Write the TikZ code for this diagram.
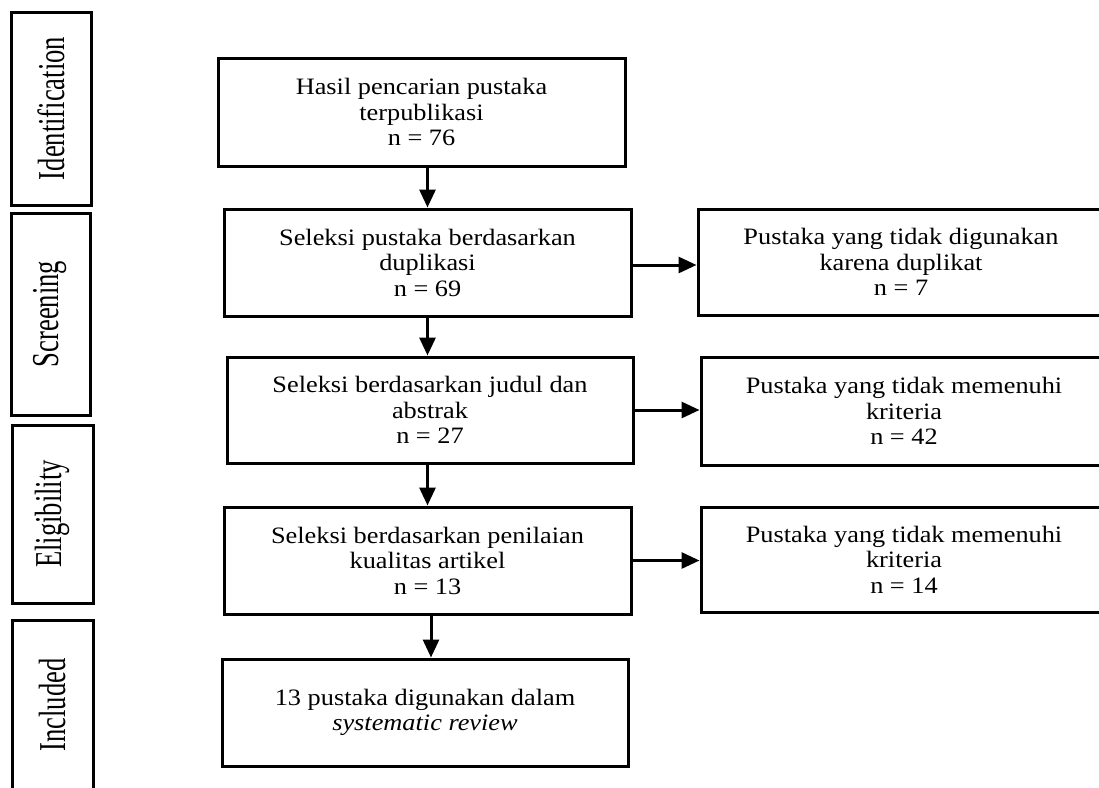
\documentclass[tikz,border=0pt]{standalone}
\usepackage{fontspec}
\setmainfont{Liberation Serif}[FakeStretch=1.12]
\newfontfamily\labelfont{Liberation Serif}[FakeStretch=0.7]
\usetikzlibrary{arrows.meta}
\begin{document}
\begin{tikzpicture}[x=1pt,y=-1pt,
  box/.style={draw=black, line width=3pt, rectangle, align=center,
    minimum width=406pt, minimum height=107pt, inner sep=0pt,
    font=\fontsize{23.5}{25.5}\selectfont},
  phase/.style={draw=black, line width=3pt, rectangle, inner sep=0pt},
  phasetext/.style={rotate=90, font=\labelfont\fontsize{38}{38}\selectfont},
  arr/.style={line width=3pt, -{Triangle[length=18pt,width=16pt]}}]
\useasboundingbox (0,0) rectangle (1099,787);
\clip (0,0) rectangle (1099,787);

% phase labels
\node[phase, minimum width=80pt, minimum height=193pt] (pid) at (51,108.5) {};
\node[phasetext] (tid) at (pid.center) {Identification};
\node[phase, minimum width=79pt, minimum height=202pt] (psc) at (50.5,314) {};
\node[phasetext] (tsc) at (psc.center) {Screening};
\node[phase, minimum width=81pt, minimum height=178pt] (pel) at (52.5,514) {};
\node[phasetext] (tel) at (pel.center) {Eligibility};
\node[phase, minimum width=81pt, minimum height=170pt] (pin) at (52.5,705) {};
\node[phasetext] (tin) at (pin.center) {Included};

% main boxes
\node[box, minimum width=407pt, minimum height=108pt] (b1) at (421.5,112) {Hasil pencarian pustaka\\terpublikasi\\n = 76};
\node[box, minimum width=407pt] (b2) at (427.5,262.5) {Seleksi pustaka berdasarkan\\duplikasi\\n = 69};
\node[box, minimum height=106pt] (b3) at (430,410) {Seleksi berdasarkan judul dan\\abstrak\\n = 27};
\node[box, minimum width=407pt] (b4) at (427.5,560.5) {Seleksi berdasarkan penilaian\\kualitas artikel\\n = 13};
\node[box] (b5) at (425,712.5) {13 pustaka digunakan dalam\\\textit{systematic review}};

% right boxes
\node[box, minimum height=106pt] (r1) at (901,262) {Pustaka yang tidak digunakan\\karena duplikat\\n = 7};
\node[box, minimum height=108pt] (r2) at (904,411) {Pustaka yang tidak memenuhi\\kriteria\\n = 42};
\node[box, minimum height=105pt] (r3) at (904,559.5) {Pustaka yang tidak memenuhi\\kriteria\\n = 14};

% vertical arrows
\draw[arr] (b2.north |- b1.south) -- (b2.north);
\draw[arr] (b2.south) -- (b2.south |- b3.north);
\draw[arr] (b4.north |- b3.south) -- (b4.north);
\draw[arr] ([xshift=3.5pt]b4.south) -- ([xshift=3.5pt]b4.south |- b5.north);

% horizontal arrows
\draw[arr] ([yshift=-2.5pt]b2.east) -- ([yshift=-2.5pt]b2.east -| r1.west);
\draw[arr] (b3.east) -- (b3.east -| r2.west);
\draw[arr] (b4.east) -- (b4.east -| r3.west);
\end{tikzpicture}
\end{document}
